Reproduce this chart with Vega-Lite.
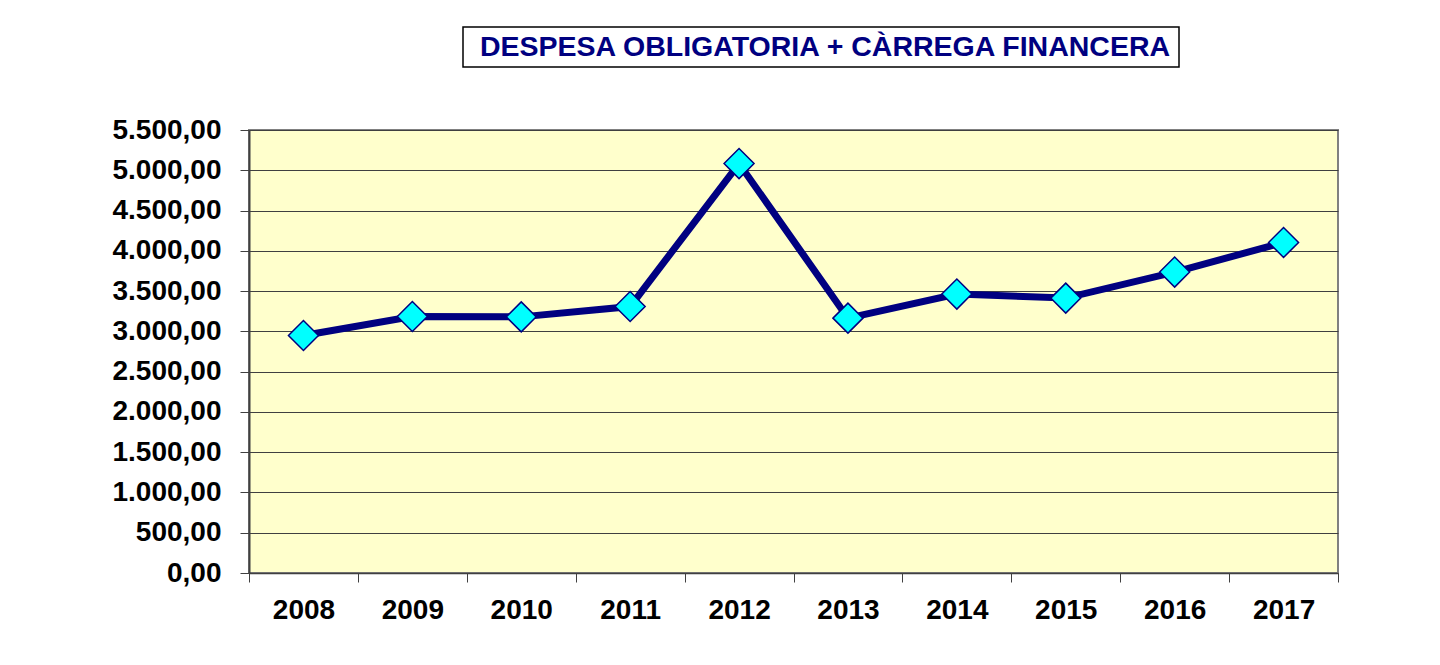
{
  "$schema": "https://vega.github.io/schema/vega-lite/v6.json",
  "background": "white",
  "padding": {"left": 111, "top": 26, "right": 0, "bottom": 0},
  "config": {
    "locale": {"number": {"decimal": ",", "thousands": ".", "grouping": [3], "currency": ["", " €"]}},
    "font": "Liberation Sans"
  },
  "datasets": {
    "d": [
      {"year": "2008", "value": 2948},
      {"year": "2009", "value": 3184},
      {"year": "2010", "value": 3180},
      {"year": "2011", "value": 3308},
      {"year": "2012", "value": 5083},
      {"year": "2013", "value": 3164},
      {"year": "2014", "value": 3463},
      {"year": "2015", "value": 3413},
      {"year": "2016", "value": 3736},
      {"year": "2017", "value": 4104}
    ],
    "t": [{"t": "DESPESA OBLIGATORIA + CÀRREGA FINANCERA"}]
  },
  "spacing": 103,
  "bounds": "flush",
  "vconcat": [
    {
      "spacing": 0,
      "bounds": "flush",
      "hconcat": [
        {
          "width": 214, "height": 40,
          "data": {"name": "t"},
          "mark": {"type": "text", "text": ""},
          "view": {"stroke": null}
        },
        {
          "width": 716, "height": 40,
          "data": {"name": "t"},
          "mark": {"type": "text", "font": "Liberation Sans", "fontSize": 28.5, "fontWeight": "bold", "color": "#000080", "baseline": "middle", "align": "center", "dx": 4},
          "encoding": {"text": {"field": "t"}},
          "view": {"stroke": "#000000", "strokeWidth": 1.5, "fill": "white"}
        }
      ]
    },
    {
      "width": 1089, "height": 443,
      "data": {"name": "d"},
      "view": {"fill": "#FFFFCC", "stroke": "#808080", "strokeWidth": 2},
      "encoding": {
        "x": {
          "field": "year", "type": "ordinal",
          "scale": {"type": "band", "paddingInner": 0, "paddingOuter": 0},
          "axis": {
            "title": null, "labelAngle": 0, "tickBand": "extent", "tickSize": 9,
            "tickColor": "#404040", "domainColor": "#404040", "domainWidth": 1.5,
            "labelFont": "Liberation Sans", "labelFontSize": 28, "labelFontWeight": "bold",
            "labelColor": "#000000", "labelPadding": 14, "grid": false
          }
        },
        "y": {
          "field": "value", "type": "quantitative",
          "scale": {"domain": [0, 5500], "nice": false, "zero": true},
          "axis": {
            "title": null, "values": [0, 500, 1000, 1500, 2000, 2500, 3000, 3500, 4000, 4500, 5000, 5500],
            "format": ",.2f", "tickSize": 9, "tickColor": "#404040", "domainColor": "#404040", "domainWidth": 2,
            "grid": true, "gridColor": "#404040", "gridOpacity": 1, "gridWidth": 1,
            "labelFont": "Liberation Sans", "labelFontSize": 28, "labelFontWeight": "bold",
            "labelColor": "#000000", "labelPadding": 19
          }
        }
      },
      "layer": [
        {"mark": {"type": "line", "color": "#000080", "strokeWidth": 7}},
        {"mark": {"type": "point", "shape": "diamond", "size": 900, "filled": true, "fill": "#00FFFF", "stroke": "#000080", "strokeWidth": 1.5, "opacity": 1}}
      ]
    }
  ]
}
